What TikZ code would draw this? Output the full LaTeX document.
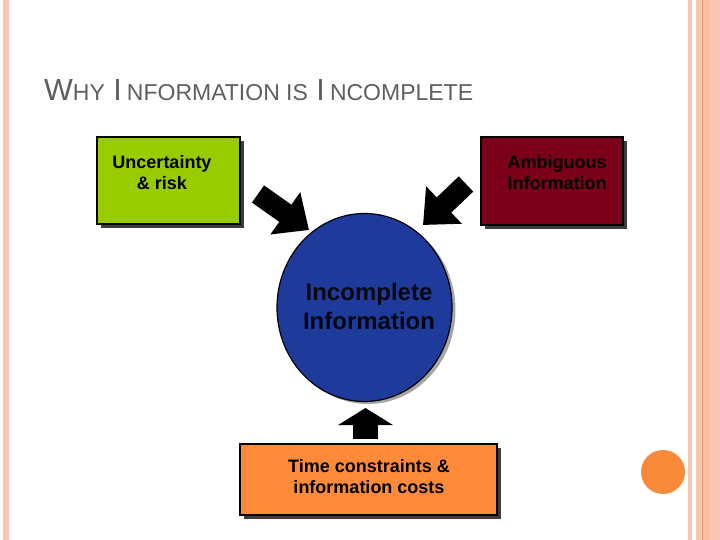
\documentclass[tikz,border=0pt]{standalone}
\usepackage{fontspec}
\setmainfont{Liberation Sans}
\usetikzlibrary{shapes.geometric,arrows.meta}
\definecolor{stripe}{HTML}{F9C6B3}
\definecolor{stripedark}{HTML}{E39574}
\definecolor{boxgreen}{HTML}{99CC00}
\definecolor{boxred}{HTML}{7B0019}
\definecolor{boxblue}{HTML}{1E3B9C}
\definecolor{boxorange}{HTML}{FF8A3A}
\definecolor{dotorange}{HTML}{F98A3A}
\definecolor{titlegray}{HTML}{5F5F5F}
\definecolor{shadowgray}{HTML}{3C3C3C}
\tikzset{
  box/.style={draw=black, line width=1.5pt, rectangle, inner sep=0pt},
  lbl/.style={font=\fontsize{18}{21}\selectfont\bfseries, align=center, text=black},
  diagarrow/.style={line width=21pt, -{Triangle[length=29pt,width=50pt]}},
}
\begin{document}
\begin{tikzpicture}[x=1pt,y=-1pt]
\useasboundingbox (0,0) rectangle (720,540);
\fill[white] (0,0) rectangle (720,540);
% side stripes
\fill[stripe] (3,0) rectangle (9,540);
\fill[stripe] (688,0) rectangle (692,540);
\fill[stripe] (696,0) rectangle (720,540);
\fill[stripe!80!orange!60!stripe] (702,0) rectangle (709,540);
\draw[stripedark, line width=1pt] (702,0) -- (702,540);
% title
\node[anchor=base west, inner sep=0pt, text=titlegray, font=\fontsize{30.5}{30.5}\selectfont] (title) at (44,101)
  {W{\fontsize{23}{23}\selectfont HY} I\,{\fontsize{23}{23}\selectfont NFORMATION IS} I\,{\fontsize{23}{23}\selectfont NCOMPLETE}};
% shadows
\fill[shadowgray] (101,141) rectangle (244,228);
\fill[shadowgray] (485,141) rectangle (627,229);
\fill[shadowgray] (244,448) rectangle (501,519);
\fill[gray!70] (368,310) ellipse [x radius=87.5, y radius=94];
% boxes
\node[box, fill=boxgreen, minimum width=143pt, minimum height=87pt] (unc) at (168.5,180.5) {};
\node[lbl] (unct) at (162,173) {Uncertainty\\ \& risk};
\node[box, fill=boxred, minimum width=142pt, minimum height=88pt] (amb) at (552,181) {};
\node[lbl] (ambt) at (557,173) {Ambiguous\\ Information};
\node[ellipse, draw=black, line width=1.2pt, fill=boxblue, minimum width=175pt, minimum height=188pt, inner sep=0pt] (inc) at (364.5,307.5) {};
\node[lbl, font=\fontsize{24}{29}\selectfont\bfseries, text=black!90!boxblue] (inct) at (369,306) {Incomplete\\ Information};
\node[box, fill=boxorange, minimum width=257pt, minimum height=71pt] (time) at (368.5,479.5) {};
\node[lbl] (timet) at (369,477) {Time constraints \&\\ information costs};
% right dot
\fill[dotorange] (663,472) circle (22);
% arrows
\coordinate (a1s) at (258,194);
\coordinate (a1e) at (309,230);
\coordinate (a2s) at (466,184);
\coordinate (a2e) at (423,225);
\coordinate (a3s) at (365.5,439);
\coordinate (a3e) at (365.5,408);
\draw[diagarrow] (a1s) -- (a1e);
\draw[diagarrow] (a2s) -- (a2e);
\draw[line width=25pt, -{Triangle[length=17pt,width=54pt]}] (a3s) -- (a3e);
\end{tikzpicture}
\end{document}
